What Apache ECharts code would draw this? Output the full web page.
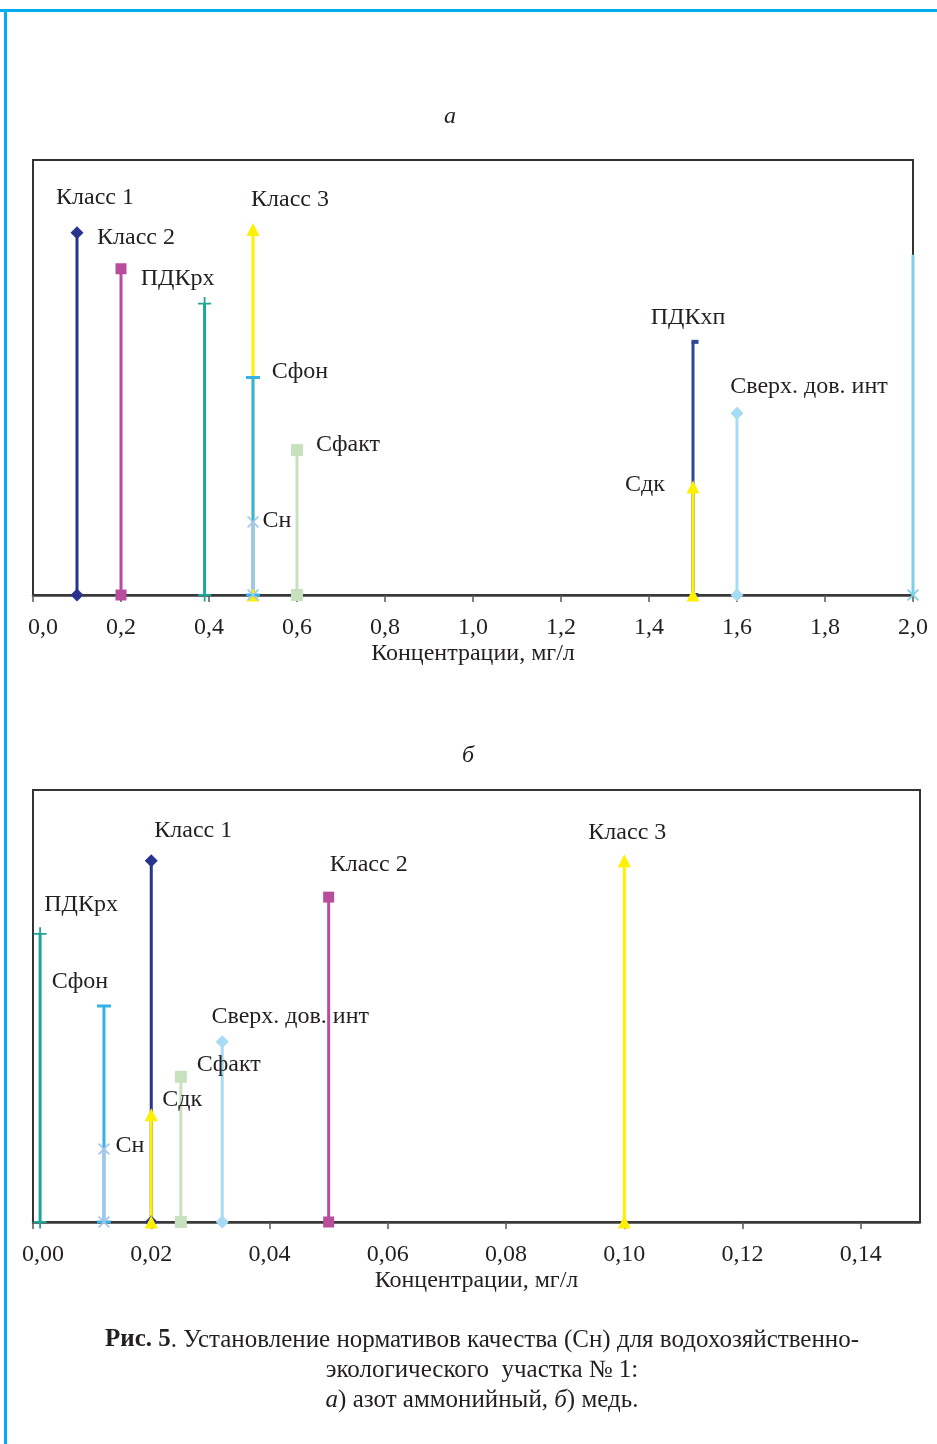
<!DOCTYPE html>
<html><head><meta charset="utf-8">
<script src="https://cdn.jsdelivr.net/npm/echarts@6/dist/echarts.min.js"></script>
<style>html,body{margin:0;padding:0;background:#fff}#c{width:937px;height:1444px}</style>
</head><body><div id="c"></div>
<script>
// ---- Panel a (азот аммонийный) ----
const aNames = ['Класс 1','Класс 2','ПДКрх','Класс 3','Сфон','Сн','Сфакт','ПДКхп','Сдк','Сверх. дов. инт','Класс 4'];
const aX     = [0.1, 0.2, 0.39, 0.5, 0.5, 0.5, 0.6, 1.5, 1.5, 1.6, 2.0];
const aY     = [83.3, 75, 67, 84, 50, 16.8, 33.3, 58.2, 24.8, 41.8, 78.2];
const aTicks = { min: 0, max: 2.0, interval: 0.2, digits: 1 };
// ---- Panel б (медь) ----
const bNames = ['ПДКрх','Сфон','Сн','Класс 1','Сдк','Сфакт','Сверх. дов. инт','Класс 2','Класс 3'];
const bX     = [0.0012, 0.012, 0.012, 0.02, 0.02, 0.025, 0.032, 0.05, 0.10];
const bY     = [66.7, 50, 16.9, 83.6, 24.8, 33.6, 41.7, 75.2, 83.6];
const bTicks = { min: 0, max: 0.15, interval: 0.02, digits: 2 };

const axisTitle = 'Концентрации, мг/л';

// ---- styles (not data) ----
const PATH_PLUS = 'path://M0,4.3H10V5.7H0Z M4.3,0H5.7V10H4.3Z';
const PATH_X = 'path://M0,1L1,0L5,4L9,0L10,1L6,5L10,9L9,10L5,6L1,10L0,9L4,5Z';
const sty = {
  'Класс 1': { color: '#28338e', sym: 'diamond', size: 13 },
  'Класс 2': { color: '#b84d9c', sym: 'rect', size: 11 },
  'ПДКрх':   { color: '#1ea596', sym: PATH_PLUS, size: 13 },
  'Класс 3': { color: '#fff000', sym: 'triangle', size: 13 },
  'Сфон':    { color: '#35b2e6', sym: 'rect', size: [14, 3] },
  'Сн':      { color: '#a3c6ea', sym: PATH_X, size: 12 },
  'Сфакт':   { color: '#c7e1bf', sym: 'rect', size: 12 },
  'ПДКхп':   { color: '#2c4893', sym: 'rect', size: [7, 4], off: [2, 0] },
  'Сдк':     { color: '#fff000', sym: 'triangle', size: 13 },
  'Сверх. дов. инт': { color: '#a6dbf4', sym: 'diamond', size: 13 },
  'Класс 4': { color: '#7fd0e7', sym: PATH_X, size: 12, noTop: true }
};
const aLab = {
  'Класс 1': [18, -35], 'Класс 2': [15, -31], 'ПДКрх': [-27, -25], 'Класс 3': [37, -30],
  'Сфон': [47, -6], 'Сн': [24, -1], 'Сфакт': [51, -5], 'Сдк': [-48, -2], 'ПДКхп': [-7, -24],
  'Сверх. дов. инт': [72, -26], 'Класс 4': [-67, 0]
};
const bLab = {
  'ПДКрх': [41, -29], 'Сфон': [-24, -24], 'Сн': [26, -3], 'Класс 1': [42, -30], 'Сдк': [31, -15],
  'Сфакт': [48, -12], 'Сверх. дов. инт': [68, -25], 'Класс 2': [40, -32], 'Класс 3': [3, -28]
};

const FONT = '"Liberation Serif", "DejaVu Serif", serif';
const FS = 24;
const TXT = '#231f20';

function buildSeries(names, xs, ys, labs, idx) {
  return names.map((n, i) => {
    const s = sty[n];
    const o = labs[n];
    return {
      type: 'line', name: n, xAxisIndex: idx, yAxisIndex: idx,
      clip: false, showSymbol: true, showAllSymbol: true, animation: false,
      symbolOffset: s.off || [0, 0],
      lineStyle: { color: s.color, width: 3 },
      itemStyle: { color: s.color, borderWidth: 0 },
      emphasis: { disabled: true },
      data: [
        { value: [xs[i], 0], symbol: s.sym, symbolSize: s.size },
        { value: [xs[i], ys[i]], symbol: s.noTop ? 'none' : s.sym, symbolSize: s.size,
          label: { show: true, position: 'inside', offset: o, formatter: n,
                   fontFamily: FONT, fontSize: FS, color: TXT, align: 'center', verticalAlign: 'middle' } }
      ]
    };
  });
}

function xAxis(t, idx) {
  return {
    type: 'value', gridIndex: idx, min: t.min, max: t.max, interval: t.interval,
    name: axisTitle, nameLocation: 'middle', nameGap: 47,
    nameTextStyle: { fontFamily: FONT, fontSize: FS, color: TXT },
    axisLine: { show: true, lineStyle: { color: '#3a3a3a', width: 2.5 } },
    axisTick: { show: true, inside: false, length: 7, lineStyle: { color: '#555', width: 1.5 } },
    splitLine: { show: false },
    axisLabel: {
      fontFamily: FONT, fontSize: FS, color: TXT, margin: 21, showMaxLabel: t.max === 2.0,
      formatter: v => {
        const s = v.toFixed(t.digits).replace('.', ',');
        return Math.abs(v - t.min) < 1e-9 ? '{f|' + s + '}' : s;
      },
      rich: { f: { fontFamily: FONT, fontSize: FS, color: TXT, padding: [0, 0, 0, 20] } }
    }
  };
}

const chart = echarts.init(document.getElementById('c'), null, { renderer: 'canvas' });
chart.setOption({
  animation: false,
  backgroundColor: '#fff',
  grid: [
    { left: 33, right: 24, top: 160, bottom: 849, show: true, borderColor: '#333', borderWidth: 2, backgroundColor: 'transparent' },
    { left: 33, right: 17, top: 790, bottom: 222, show: true, borderColor: '#333', borderWidth: 2, backgroundColor: 'transparent' }
  ],
  xAxis: [xAxis(aTicks, 0), xAxis(bTicks, 1)],
  yAxis: [
    { type: 'value', gridIndex: 0, min: 0, max: 100, show: false },
    { type: 'value', gridIndex: 1, min: 0, max: 100, show: false }
  ],
  series: [].concat(buildSeries(aNames, aX, aY, aLab, 0), buildSeries(bNames, bX, bY, bLab, 1)),
  graphic: [
    { type: 'rect', shape: { x: 0, y: 9, width: 937, height: 3 }, style: { fill: '#00aeef' }, silent: true },
    { type: 'rect', shape: { x: 4, y: 9, width: 3, height: 1435 }, style: { fill: '#00aeef' }, silent: true },
    { type: 'text', x: 450, y: 117, style: { text: 'а', font: 'italic 24px ' + FONT, fill: TXT, align: 'center', verticalAlign: 'middle' } },
    { type: 'text', x: 468, y: 756, style: { text: 'б', font: 'italic 24px ' + FONT, fill: TXT, align: 'center', verticalAlign: 'middle' } },
    { type: 'text', x: 482, y: 1340, style: {
        text: '{b|Рис. 5}{n|. Установление нормативов качества (Сн) для водохозяйственно-}',
        align: 'center', verticalAlign: 'middle',
        rich: { b: { font: 'bold 25px ' + FONT, fill: TXT }, n: { font: '25px ' + FONT, fill: TXT } } } },
    { type: 'text', x: 482, y: 1370, style: {
        text: 'экологического  участка № 1:', font: '25px ' + FONT, fill: TXT, align: 'center', verticalAlign: 'middle' } },
    { type: 'text', x: 482, y: 1400, style: {
        text: '{i|а}{n|) азот аммонийный, }{i|б}{n|) медь.}',
        align: 'center', verticalAlign: 'middle',
        rich: { i: { font: 'italic 25px ' + FONT, fill: TXT }, n: { font: '25px ' + FONT, fill: TXT } } } }
  ]
});
</script></body></html>
